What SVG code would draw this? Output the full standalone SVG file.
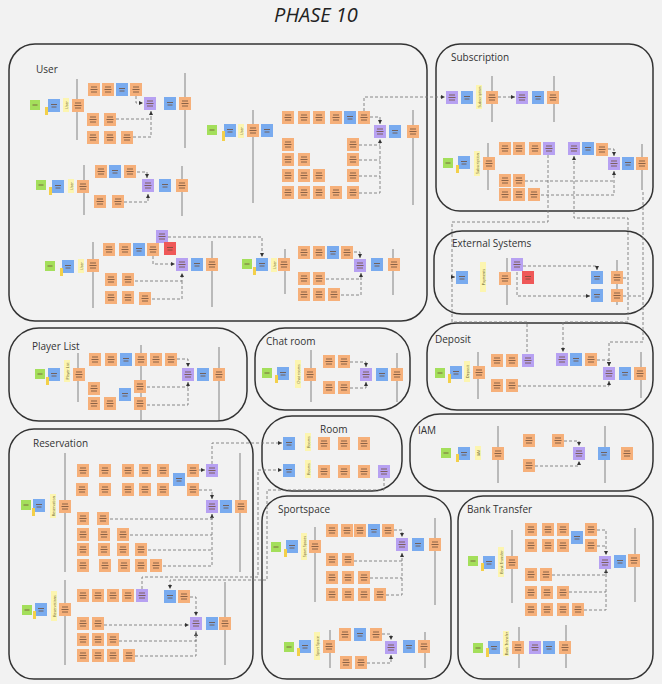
<svg xmlns="http://www.w3.org/2000/svg" xmlns:xlink="http://www.w3.org/1999/xlink" width="662" height="684" viewBox="0 0 662 684">
<style>
.bg{fill:#f2f2f2}
.box{fill:#f2f2f2;stroke:#333;stroke-width:1.5}
.title{font-family:"Open Sans","DejaVu Sans",sans-serif;font-style:italic;font-size:20px;fill:#222}
.lbl{font-family:"Open Sans","DejaVu Sans",sans-serif;font-size:10px;fill:#333}
.vl{stroke:#a3a3a3;stroke-width:1.4;fill:none}
.dl{stroke:#7a7a7a;stroke-width:0.9;stroke-dasharray:3 2;fill:none}
.da{stroke:#7a7a7a;stroke-width:0.9;stroke-dasharray:3 2;fill:none;marker-end:url(#ah)}
.y{fill:#fcf5b0}
.tag{fill:#f3d04a}
.yt{font-family:"Open Sans","DejaVu Sans",sans-serif;font-size:3.6px;fill:#6b6430;text-anchor:middle;dominant-baseline:central}
.tx{stroke:#6e4e38;stroke-width:0.8;fill:none}
</style>
<defs>
<marker id="ah" viewBox="0 0 6 6" refX="6" refY="3" markerWidth="4" markerHeight="4" markerUnits="userSpaceOnUse" orient="auto-start-reverse"><path d="M0,0L6,3L0,6z" fill="#333"/></marker>
<g id="o"><rect width="12" height="13" fill="#f6b07a"/><path class="tx" d="M3 4h6M2.5 6.5h7M3 9h6"/></g>
<g id="b"><rect width="12" height="13" fill="#79abef"/><path class="tx" d="M3 5.5h6M3.5 8h5" stroke="#3f5f8a"/></g>
<g id="p"><rect width="12" height="13" fill="#b7a1f2"/><path class="tx" d="M3 4h6M2.5 6.5h7M3 9h6" stroke="#5d4a8a"/></g>
<g id="g"><rect width="10" height="10" fill="#a4df5b"/><path class="tx" d="M2.5 5h5" stroke="#4f7a2a"/></g>
<g id="r"><rect width="12" height="13" fill="#ef5858"/><path class="tx" d="M3 5.5h6M3.5 8h5" stroke="#8a2a2a"/></g>
</defs>
<rect class="bg" width="662" height="684"/>
<text class="title" x="316" y="22" text-anchor="middle">PHASE 10</text>

<g id="containers">
<rect id="box-user" class="box" x="9" y="44" width="418" height="277" rx="26"/>
<rect id="box-subscription" class="box" x="436" y="44" width="217" height="167" rx="24"/>
<rect id="box-external" class="box" x="434" y="231" width="219" height="83" rx="28"/>
<rect id="box-playerlist" class="box" x="9" y="328" width="238" height="93" rx="30"/>
<rect id="box-chatroom" class="box" x="255" y="328" width="155" height="82" rx="30"/>
<rect id="box-deposit" class="box" x="427" y="323" width="226" height="87" rx="30"/>
<rect id="box-room" class="box" x="262" y="416" width="140" height="75" rx="30"/>
<rect id="box-iam" class="box" x="410" y="414" width="243" height="77" rx="30"/>
<rect id="box-reservation" class="box" x="9" y="429" width="244" height="250" rx="25"/>
<rect id="box-sportspace" class="box" x="262" y="496" width="189" height="183" rx="25"/>
<rect id="box-banktransfer" class="box" x="458" y="496" width="195" height="183" rx="25"/>
<text class="lbl" x="36" y="73">User</text>
<text class="lbl" x="451" y="61">Subscription</text>
<text class="lbl" x="452" y="247">External Systems</text>
<text class="lbl" x="32" y="350">Player List</text>
<text class="lbl" x="266" y="345">Chat room</text>
<text class="lbl" x="435" y="343">Deposit</text>
<text class="lbl" x="320" y="433">Room</text>
<text class="lbl" x="418" y="434">IAM</text>
<text class="lbl" x="33" y="447">Reservation</text>
<text class="lbl" x="278" y="513">Sportspace</text>
<text class="lbl" x="467" y="513">Bank Transfer</text>
</g>

<g id="timelines">
<path class="vl" d="M77 79V140M185 73V148M84 165V215M182 166V216M253 110V203M413 110V205M93 242V308M212 241V307M285 249V294M393 249V295"/>
<path class="vl" d="M492 76V122M554 76V122M488 143V190M642 144V190M507 258V305M617 260V305M478 352V399M641 352V398M498 426V483M605 426V483"/>
<path class="vl" d="M78 353V402M141 345V420M219 347V420M311 350V402M397 353V402M65 453V572M240 453V572M65 580V665M225 582V665"/>
<path class="vl" d="M315 527V602M435 518V605M330 630V668M425 632V668M512 530V603M635 528V602M519 627V668M566 625V668"/>
</g>

<g id="connectors">
<path class="da" d="M136 96V103H143"/>
<path class="da" d="M116 119H151V111"/>
<path class="dl" d="M133 137H151V119"/>
<path class="da" d="M137 172H147V178"/>
<path class="da" d="M124 202H148V194"/>
<path class="da" d="M370 117H380V124"/>
<path class="dl" d="M359 145H380M359 160H380M359 176H380"/>
<path class="da" d="M359 193H380V139"/>
<path class="da" d="M364 111V97H445"/>
<path class="da" d="M153 256V264H175"/>
<path class="da" d="M135 281H182V273"/>
<path class="dl" d="M152 299H182V281"/>
<path class="da" d="M168 237H262V257"/>
<path class="da" d="M354 252H360V258"/>
<path class="da" d="M326 279H361V273"/>
<path class="dl" d="M341 295H361V279"/>
<path class="da" d="M498 97H515"/>
<path class="da" d="M608 149H614V156"/>
<path class="dl" d="M525 181H614"/>
<path class="da" d="M541 195H614V171"/>
<path class="da" d="M523 266H597V270"/>
<path class="da" d="M517 272V296H590"/>
<path class="dl" d="M623 278H628M623 296H643"/>
<path class="dl" d="M548 155V222H452V322H527V353"/>
<path class="da" d="M452 277H455"/>
<path class="da" style="marker-start:url(#ah)" d="M574 156V218H628V322H563V352"/>
<path class="da" d="M643 192V342H609V366"/>
<path class="da" d="M597 360H609V366"/>
<path class="da" d="M518 386H609V381"/>
<path class="da" d="M564 441H579V446"/>
<path class="da" d="M535 466H579V461"/>
<path class="da" d="M177 359H188V367"/>
<path class="da" d="M147 387H188V382"/>
<path class="dl" d="M147 405H188V387"/>
<path class="da" d="M350 362H366V367"/>
<path class="da" d="M350 388H366V382"/>
<path class="da" d="M212 464V443H282"/>
<path class="da" d="M142 589V577H258V470H282"/>
<path class="da" d="M384 478V490H267V580H170V589"/>
<path class="da" d="M199 470H205"/>
<path class="da" d="M199 490H212V499"/>
<path class="da" d="M110 519H212V514"/>
<path class="dl" d="M130 535H212M148 550H212"/>
<path class="dl" d="M163 566H212V514"/>
<path class="da" d="M190 597H196V616"/>
<path class="da" d="M104 625H189"/>
<path class="da" d="M119 641H196V632"/>
<path class="dl" d="M135 656H196V631"/>
<path class="da" d="M394 530H402V537"/>
<path class="dl" d="M354 561H402M370 578H402"/>
<path class="da" d="M386 595H402V553"/>
<path class="da" d="M382 634H391V640"/>
<path class="da" d="M367 663H391V655"/>
<path class="da" d="M597 530H606V555"/>
<path class="dl" d="M597 546H606M569 592H606"/>
<path class="da" d="M552 575H606V569"/>
<path class="dl" d="M584 610H606V569"/>
</g>

<g id="user">
<use href="#g" x="30" y="100"/><use href="#b" x="48" y="99"/><rect class="tag" x="45" y="107" width="3" height="8"/>
<rect class="y" x="63" y="98" width="6" height="14"/><text class="yt" transform="translate(66 105) rotate(-90)">User</text>
<use href="#o" x="72" y="99"/>
<use href="#o" x="88" y="83"/><use href="#o" x="102" y="83"/><use href="#b" x="116" y="83"/><use href="#o" x="130" y="83"/>
<use href="#p" x="144" y="97"/><use href="#b" x="164" y="97"/><use href="#o" x="179" y="97"/>
<use href="#o" x="87" y="113"/><use href="#o" x="104" y="113"/>
<use href="#o" x="87" y="131"/><use href="#o" x="104" y="131"/><use href="#o" x="121" y="131"/>

<use href="#g" x="36" y="180"/><use href="#b" x="52" y="180"/><rect class="tag" x="49" y="187" width="3" height="8"/>
<rect class="y" x="68" y="179" width="6" height="14"/><text class="yt" transform="translate(71 186) rotate(-90)">User</text>
<use href="#o" x="77" y="180"/>
<use href="#o" x="95" y="165"/><use href="#b" x="109" y="165"/><use href="#o" x="124" y="165"/>
<use href="#p" x="142" y="179"/><use href="#b" x="159" y="179"/><use href="#o" x="176" y="179"/>
<use href="#o" x="94" y="195"/><use href="#o" x="112" y="195"/>

<use href="#g" x="207" y="125"/><use href="#b" x="224" y="124"/><rect class="tag" x="222" y="131" width="3" height="10"/>
<rect class="y" x="238" y="124" width="6" height="14"/><text class="yt" transform="translate(241 131) rotate(-90)">User</text>
<use href="#o" x="247" y="124"/><use href="#b" x="261" y="124"/>
<use href="#o" x="282" y="111"/><use href="#o" x="298" y="111"/><use href="#o" x="313" y="111"/><use href="#o" x="330" y="111"/><use href="#b" x="344" y="111"/><use href="#o" x="358" y="111"/>
<use href="#p" x="374" y="125"/><use href="#b" x="389" y="125"/><use href="#o" x="407" y="125"/>
<use href="#o" x="282" y="138"/>
<use href="#o" x="282" y="153"/><use href="#o" x="298" y="153"/>
<use href="#o" x="282" y="169"/><use href="#o" x="298" y="169"/><use href="#o" x="313" y="169"/>
<use href="#o" x="282" y="186"/><use href="#o" x="298" y="186"/><use href="#o" x="313" y="186"/><use href="#o" x="330" y="186"/>
<use href="#o" x="347" y="138"/><use href="#o" x="347" y="153"/><use href="#o" x="347" y="169"/><use href="#o" x="347" y="186"/>

<use href="#g" x="45" y="261"/><use href="#b" x="62" y="260"/><rect class="tag" x="60" y="268" width="3" height="8"/>
<rect class="y" x="78" y="259" width="6" height="14"/><text class="yt" transform="translate(81 266) rotate(-90)">User</text>
<use href="#o" x="87" y="259"/>
<use href="#o" x="103" y="243"/><use href="#o" x="119" y="243"/><use href="#b" x="133" y="243"/><use href="#o" x="147" y="243"/>
<use href="#p" x="156" y="230"/><use href="#r" x="164" y="242"/>
<use href="#p" x="176" y="258"/><use href="#b" x="191" y="258"/><use href="#o" x="206" y="258"/>
<use href="#o" x="105" y="273"/><use href="#o" x="122" y="273"/>
<use href="#o" x="105" y="291"/><use href="#o" x="122" y="291"/><use href="#o" x="139" y="292"/>

<use href="#g" x="242" y="259"/><use href="#b" x="256" y="258"/><rect class="tag" x="253" y="267" width="3" height="8"/>
<rect class="y" x="271" y="258" width="6" height="14"/><text class="yt" transform="translate(274 265) rotate(-90)">User</text>
<use href="#o" x="278" y="258"/>
<use href="#o" x="298" y="246"/><use href="#o" x="313" y="246"/><use href="#b" x="327" y="246"/><use href="#o" x="341" y="246"/>
<use href="#p" x="354" y="259"/><use href="#b" x="371" y="258"/><use href="#o" x="388" y="258"/>
<use href="#o" x="298" y="272"/><use href="#o" x="313" y="272"/>
<use href="#o" x="298" y="288"/><use href="#o" x="313" y="288"/><use href="#o" x="328" y="288"/>
</g>

<g id="subscription">
<use href="#p" x="446" y="91"/><use href="#b" x="461" y="91"/>
<rect class="y" x="476" y="85" width="6" height="24"/><text class="yt" transform="translate(479 97) rotate(-90)">Subscription</text>
<use href="#o" x="486" y="91"/>
<use href="#p" x="516" y="91"/><use href="#b" x="532" y="91"/><use href="#o" x="547" y="91"/>
<use href="#g" x="443" y="158"/><use href="#b" x="458" y="156"/><rect class="tag" x="456" y="165" width="3" height="8"/>
<rect class="y" x="474" y="151" width="6" height="25"/><text class="yt" transform="translate(477 163.5) rotate(-90)">Subscription</text>
<use href="#o" x="483" y="157"/>
<use href="#o" x="499" y="142"/><use href="#o" x="513" y="142"/><use href="#o" x="529" y="142"/><use href="#p" x="543" y="142"/>
<use href="#p" x="568" y="142"/><use href="#b" x="582" y="142"/><use href="#o" x="596" y="143"/>
<use href="#p" x="608" y="157"/><use href="#b" x="622" y="157"/><use href="#o" x="636" y="157"/>
<use href="#o" x="499" y="174"/><use href="#o" x="513" y="174"/>
<use href="#o" x="499" y="188"/><use href="#o" x="513" y="188"/><use href="#o" x="528" y="188"/>
</g>

<g id="external-systems">
<use href="#b" x="456" y="271"/>
<rect class="y" x="480" y="262" width="6" height="30"/><text class="yt" transform="translate(483 277) rotate(-90)">Payments</text>
<use href="#o" x="499" y="272"/><use href="#p" x="511" y="258"/><use href="#r" x="522" y="271"/>
<use href="#b" x="591" y="271"/><use href="#b" x="591" y="289"/>
<use href="#o" x="611" y="271"/><use href="#o" x="611" y="289"/>
</g>

<g id="deposit">
<use href="#g" x="435" y="368"/><use href="#b" x="450" y="366"/><rect class="tag" x="448" y="374" width="3" height="9"/>
<rect class="y" x="464" y="361" width="6" height="21"/><text class="yt" transform="translate(467 371.5) rotate(-90)">Deposit</text>
<use href="#o" x="473" y="366"/>
<use href="#o" x="491" y="354"/><use href="#o" x="506" y="354"/><use href="#p" x="522" y="354"/>
<use href="#p" x="556" y="353"/><use href="#b" x="570" y="353"/><use href="#o" x="585" y="353"/>
<use href="#p" x="603" y="367"/><use href="#b" x="619" y="367"/><use href="#o" x="634" y="367"/>
<use href="#o" x="491" y="379"/><use href="#o" x="506" y="379"/>
</g>

<g id="iam">
<use href="#g" x="441" y="448"/><use href="#b" x="458" y="447"/><rect class="tag" x="456" y="454" width="3" height="8"/>
<rect class="y" x="475" y="446" width="6" height="14"/><text class="yt" transform="translate(478 453) rotate(-90)">IAM</text>
<use href="#o" x="492" y="447"/>
<use href="#o" x="523" y="434"/><use href="#o" x="552" y="434"/><use href="#o" x="523" y="459"/>
<use href="#p" x="573" y="447"/><use href="#b" x="598" y="447"/><use href="#o" x="621" y="447"/>
</g>

<g id="player-list">
<use href="#g" x="35" y="369"/><use href="#b" x="48" y="368"/><rect class="tag" x="46" y="377" width="3" height="8"/>
<rect class="y" x="64" y="360" width="6" height="22"/><text class="yt" transform="translate(67 371) rotate(-90)">Player List</text>
<use href="#o" x="73" y="368"/>
<use href="#o" x="89" y="353"/><use href="#o" x="105" y="353"/><use href="#b" x="120" y="353"/><use href="#o" x="135" y="353"/><use href="#o" x="150" y="353"/><use href="#o" x="165" y="353"/>
<use href="#p" x="182" y="368"/><use href="#b" x="197" y="368"/><use href="#o" x="213" y="368"/>
<use href="#o" x="88" y="382"/><use href="#o" x="88" y="397"/><use href="#o" x="104" y="397"/>
<use href="#b" x="119" y="388"/><use href="#o" x="134" y="380"/><use href="#o" x="134" y="397"/>
</g>

<g id="chat-room">
<use href="#g" x="262" y="368"/><use href="#b" x="277" y="367"/><rect class="tag" x="275" y="375" width="3" height="8"/>
<rect class="y" x="295" y="360" width="6" height="28"/><text class="yt" transform="translate(298 374) rotate(-90)">Chat rooms</text>
<use href="#o" x="304" y="368"/>
<use href="#o" x="323" y="355"/><use href="#o" x="338" y="355"/><use href="#o" x="323" y="381"/><use href="#o" x="338" y="381"/>
<use href="#p" x="360" y="368"/><use href="#b" x="376" y="368"/><use href="#o" x="391" y="368"/>
</g>

<g id="room">
<use href="#b" x="283" y="437"/>
<rect class="y" x="305" y="433" width="6" height="18"/><text class="yt" transform="translate(308 442) rotate(-90)">Rooms</text>
<use href="#o" x="318" y="437"/><use href="#o" x="338" y="437"/><use href="#o" x="358" y="437"/>
<use href="#b" x="283" y="464"/>
<rect class="y" x="305" y="460" width="6" height="18"/><text class="yt" transform="translate(308 469) rotate(-90)">Rooms</text>
<use href="#o" x="318" y="465"/><use href="#o" x="338" y="465"/><use href="#o" x="358" y="465"/><use href="#p" x="378" y="465"/>
</g>

<g id="reservation">
<use href="#g" x="21" y="500"/><use href="#b" x="33" y="499"/><rect class="tag" x="32" y="508" width="3" height="8"/>
<rect class="y" x="50" y="494" width="6" height="24"/><text class="yt" transform="translate(53 506) rotate(-90)">Reservation</text>
<use href="#o" x="59" y="500"/>
<use href="#o" x="77" y="464"/><use href="#o" x="99" y="464"/><use href="#o" x="122" y="464"/><use href="#o" x="139" y="464"/><use href="#o" x="157" y="464"/><use href="#b" x="173" y="473"/><use href="#o" x="187" y="464"/><use href="#p" x="206" y="464"/>
<use href="#o" x="76" y="483"/><use href="#o" x="99" y="483"/><use href="#o" x="122" y="483"/><use href="#o" x="139" y="483"/><use href="#o" x="157" y="483"/><use href="#o" x="187" y="483"/>
<use href="#p" x="206" y="500"/><use href="#b" x="220" y="500"/><use href="#o" x="235" y="500"/>
<use href="#o" x="77" y="512"/><use href="#o" x="97" y="512"/>
<use href="#o" x="77" y="528"/><use href="#o" x="98" y="528"/><use href="#o" x="117" y="528"/>
<use href="#o" x="77" y="543"/><use href="#o" x="98" y="543"/><use href="#o" x="117" y="543"/><use href="#o" x="135" y="543"/>
<use href="#o" x="77" y="559"/><use href="#o" x="99" y="559"/><use href="#o" x="118" y="559"/><use href="#o" x="135" y="559"/><use href="#o" x="150" y="559"/>

<use href="#g" x="22" y="605"/><use href="#b" x="35" y="603"/><rect class="tag" x="33" y="611" width="3" height="8"/>
<rect class="y" x="51" y="591" width="6" height="30"/><text class="yt" transform="translate(54 606) rotate(-90)">Reservations</text>
<use href="#o" x="59" y="603"/>
<use href="#o" x="77" y="589"/><use href="#o" x="92" y="589"/><use href="#o" x="107" y="589"/><use href="#o" x="122" y="589"/><use href="#p" x="136" y="589"/>
<use href="#b" x="164" y="590"/><use href="#o" x="178" y="590"/>
<use href="#p" x="190" y="617"/><use href="#b" x="206" y="617"/><use href="#o" x="219" y="617"/>
<use href="#o" x="77" y="617"/><use href="#o" x="92" y="617"/>
<use href="#o" x="77" y="633"/><use href="#o" x="92" y="633"/><use href="#o" x="107" y="633"/>
<use href="#o" x="77" y="649"/><use href="#o" x="92" y="649"/><use href="#o" x="107" y="649"/><use href="#o" x="123" y="649"/>
</g>

<g id="sportspace">
<use href="#g" x="271" y="542"/><use href="#b" x="286" y="540"/><rect class="tag" x="284" y="549" width="3" height="8"/>
<rect class="y" x="301" y="533" width="6" height="27"/><text class="yt" transform="translate(304 546.5) rotate(-90)">Sport Spaces</text>
<use href="#o" x="309" y="540"/>
<use href="#o" x="326" y="524"/><use href="#o" x="341" y="524"/><use href="#o" x="354" y="524"/><use href="#b" x="368" y="524"/><use href="#o" x="382" y="524"/>
<use href="#p" x="396" y="538"/><use href="#b" x="412" y="538"/><use href="#o" x="429" y="538"/>
<use href="#o" x="326" y="553"/><use href="#o" x="342" y="553"/>
<use href="#o" x="326" y="571"/><use href="#o" x="342" y="571"/><use href="#o" x="358" y="571"/>
<use href="#o" x="326" y="588"/><use href="#o" x="342" y="588"/><use href="#o" x="358" y="588"/><use href="#o" x="374" y="588"/>

<use href="#g" x="284" y="642"/><use href="#b" x="299" y="640"/><rect class="tag" x="297" y="648" width="3" height="8"/>
<rect class="y" x="314" y="632" width="6" height="28"/><text class="yt" transform="translate(317 646) rotate(-90)">Sport Space</text>
<use href="#o" x="323" y="640"/>
<use href="#o" x="339" y="628"/><use href="#b" x="354" y="628"/><use href="#o" x="370" y="628"/>
<use href="#p" x="385" y="641"/><use href="#b" x="403" y="640"/><use href="#o" x="418" y="640"/>
<use href="#o" x="340" y="656"/><use href="#o" x="355" y="656"/>
</g>

<g id="bank-transfer">
<use href="#g" x="468" y="556"/><use href="#b" x="483" y="556"/><rect class="tag" x="481" y="563" width="3" height="8"/>
<rect class="y" x="498" y="547" width="6" height="30"/><text class="yt" transform="translate(501 562) rotate(-90)">Bank Transfer</text>
<use href="#o" x="506" y="556"/>
<use href="#o" x="525" y="523"/><use href="#o" x="542" y="523"/><use href="#o" x="557" y="523"/><use href="#o" x="585" y="523"/>
<use href="#b" x="571" y="531"/>
<use href="#o" x="525" y="539"/><use href="#o" x="542" y="539"/><use href="#o" x="557" y="539"/><use href="#o" x="585" y="539"/>
<use href="#p" x="599" y="556"/><use href="#b" x="614" y="555"/><use href="#o" x="628" y="554"/>
<use href="#o" x="525" y="568"/><use href="#o" x="540" y="568"/>
<use href="#o" x="525" y="586"/><use href="#o" x="541" y="586"/><use href="#o" x="557" y="586"/>
<use href="#o" x="525" y="603"/><use href="#o" x="541" y="603"/><use href="#o" x="557" y="603"/><use href="#o" x="572" y="603"/>

<use href="#g" x="473" y="643"/><use href="#b" x="488" y="641"/><rect class="tag" x="486" y="648" width="3" height="9"/>
<rect class="y" x="503" y="631" width="6" height="25"/><text class="yt" transform="translate(506 643.5) rotate(-90)">Bank Transfer</text>
<use href="#o" x="512" y="641"/>
<use href="#p" x="529" y="641"/><use href="#b" x="543" y="641"/><use href="#o" x="559" y="641"/>
</g>
</svg>
